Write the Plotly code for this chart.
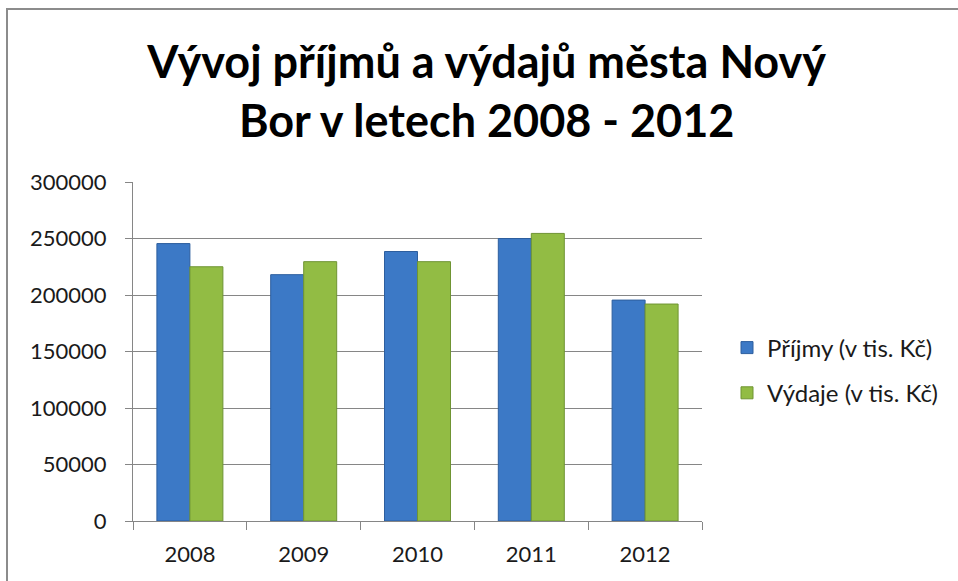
import plotly.graph_objects as go

years = ["2008", "2009", "2010", "2011", "2012"]
prijmy = [245500, 218000, 238500, 250000, 195500]
vydaje = [225000, 229500, 229500, 254500, 192000]
series_names = ["Příjmy (v tis. Kč)", "Výdaje (v tis. Kč)"]
y_ticks = [0, 50000, 100000, 150000, 200000, 250000, 300000]
title_text = "Vývoj příjmů a výdajů města Nový<br>Bor v letech 2008 - 2012"

FONT = "Lato"
GRID = "#868686"

fig = go.Figure()
fig.add_trace(go.Bar(
    x=years, y=prijmy, name=series_names[0], legendgroup="a",
    marker=dict(color="#3C79C6", line=dict(color="#2D5E9E", width=1)),
))
fig.add_trace(go.Bar(
    x=years, y=vydaje, name=series_names[1], legendgroup="b",
    marker=dict(color="#92BC44", line=dict(color="#6F9433", width=1)),
))

W, H = 958, 581
L, R, T, B = 133, 256, 182, 60
pw, ph = W - L - R, H - T - B

def px_x(px):
    return (px - L) / pw

def px_y(py):
    return (H - B - py) / ph

fig.update_layout(
    width=W, height=H,
    margin=dict(l=L, r=R, t=T, b=B),
    paper_bgcolor="white", plot_bgcolor="white",
    barmode="group", bargap=0.42, bargroupgap=0.0,
    font=dict(family=FONT, size=22, color="#1a1a1a"),
    title=dict(
        text=title_text, xref="container", x=0.508, xanchor="center",
        yref="container", y=1 - 78 / H, yanchor="top",
        font=dict(family=FONT, size=45, color="black", weight="bold"),
    ),
    xaxis=dict(
        showline=True, linecolor=GRID, linewidth=1,
        ticks="outside", tickson="boundaries", ticklen=8, tickcolor=GRID,
        showgrid=False, tickfont=dict(size=22), ticklabelstandoff=14,
    ),
    yaxis=dict(
        range=[0, 300000], tickvals=y_ticks, ticktext=[str(v) for v in y_ticks],
        showline=True, linecolor=GRID, linewidth=1,
        ticks="outside", ticklen=7, tickcolor=GRID,
        showgrid=True, gridcolor=GRID, gridwidth=1, zeroline=False,
        tickfont=dict(size=22), ticklabelstandoff=14,
    ),
    legend=dict(
        x=px_x(727), xanchor="left", y=px_y(370.5), yanchor="middle",
        font=dict(size=24), tracegroupgap=11, bgcolor="rgba(0,0,0,0)",
    ),
    shapes=[dict(
        type="rect", xref="paper", yref="paper",
        x0=px_x(7), x1=px_x(990), y0=px_y(620), y1=px_y(9),
        line=dict(color="#8c8c8c", width=2), fillcolor="rgba(0,0,0,0)", layer="below",
    )],
)

fig.write_html(
    "out.html",
    config={"displayModeBar": False},
    post_script="document.body.style.margin='0';document.body.style.overflow='hidden';",
)
